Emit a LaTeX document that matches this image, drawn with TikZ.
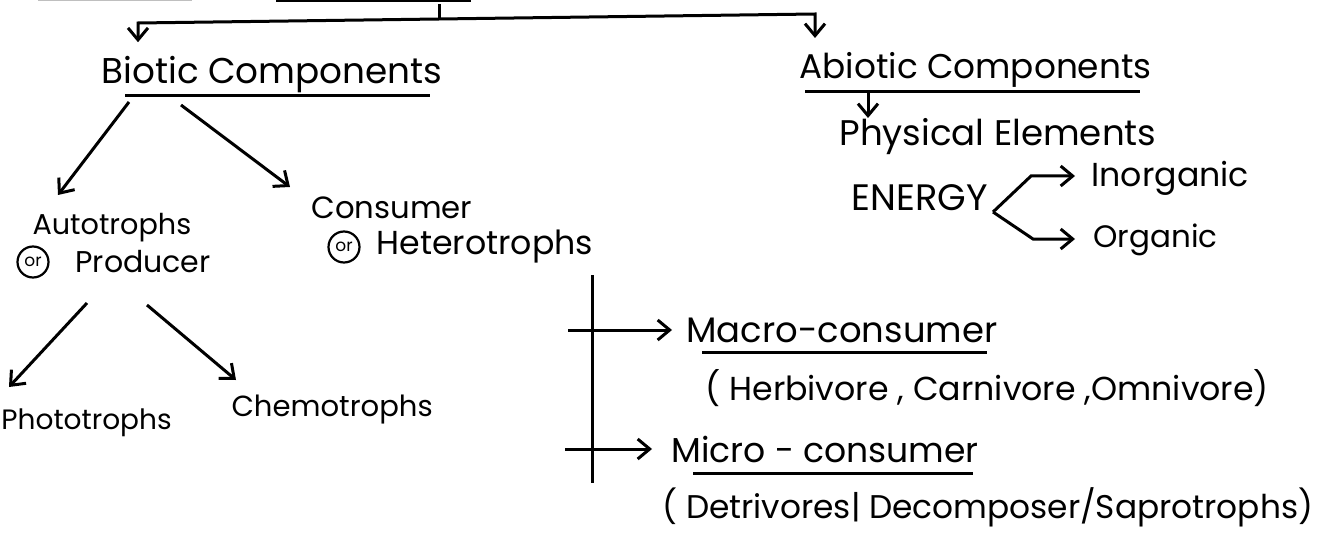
\documentclass[tikz,border=0pt]{standalone}
\usepackage{fontspec}
\setmainfont{Poppins}
\usetikzlibrary{arrows.meta}

\begin{document}
\begin{tikzpicture}[x=1pt,y=-1pt,
		line width=3pt,
		arr/.style={-{Straight Barb[length=12pt,width=20pt]}},
		txt/.style={anchor=west,inner sep=0pt,font=\fontsize{#1}{#1}\selectfont},
		txt/.default=30,
		orc/.style={draw,circle,line width=2.2pt,minimum size=31pt,inner sep=0pt,font=\fontsize{17}{17}\selectfont}]
	\useasboundingbox (0,0) rectangle (1327,540);

	% Cut-off heading at the top
	\draw[gray!50,line width=1pt] (38,1) -- (192,1);
	\draw (276,1) -- (471,1);

	% Main split
	\coordinate (root) at (439,4);
	\coordinate (jn) at (439,19);
	\coordinate (jl) at (138,23);
	\coordinate (jr) at (815,14);

	% Headings
	\node[txt=35.8] (bio) at (100,75) {Biotic Components};
	\node[txt=34.3] (abio) at (798,70) {Abiotic Components};

	\draw (root) -- (jn);
	\draw[arr] (jn) -- (jl) -- ([yshift=13pt]jl |- bio.north);
	\draw[arr] (jn) -- (jr) -- ([yshift=13pt]jr |- abio.north);
	\draw ([shift={(25,21)}]bio.west) -- ([shift={(330,21)}]bio.west);
	\draw ([shift={(7,22)}]abio.west) -- ([shift={(342,22)}]abio.west);

	% Biotic side
	\node[txt=28.7] (auto) at (31,228) {Autotrophs};
	\node[txt=30] (prod) at (74,262) {Producer};
	\node[orc] (orA) at (33,262) {or};
	\node[txt=30.7] (cons) at (310,208) {Consumer};
	\node[txt=33.2] (hetero) at (375,247) {Heterotrophs};
	\node[orc] (orB) at (344,247) {or};
	\node[txt=28] (photo) at (0,423) {Phototrophs};
	\node[txt=29.1] (chemo) at (230,410) {Chemotrophs};

	\draw[arr] ([shift={(29,27)}]bio.west) -- ([shift={(27,-33)}]auto.west);
	\draw[arr] ([shift={(81,30)}]bio.west) -- ([shift={(-20,-21)}]cons.west);
	\draw[arr] ([shift={(13,41)}]prod.west) -- ([shift={(9,-36)}]photo.west);
	\draw[arr] ([shift={(73,43)}]prod.west) -- ([shift={(6,-30)}]chemo.west);

	% Consumer kinds
	\node[txt=35.4] (macro) at (685,330) {Macro-consumer};
	\node[txt=33.2] (herb) at (704,388) {( Herbivore , Carnivore ,Omnivore)};
	\node[txt=34.6] (micro) at (670,449) {Micro - consumer};
	\node[txt=32.8] (detr) at (661,507) {( Detrivores| Decomposer/Saprotrophs)};

	\coordinate (vtop) at (592,275);
	\coordinate (vbot) at (592,483);
	\draw (vtop) -- (vbot);
	\draw[arr] ([xshift=-24pt]vtop |- macro.west) -- ([xshift=-13pt]macro.west);
	\draw[arr] ([xshift=-27pt]vtop |- micro.west) -- ([xshift=-18pt]micro.west);
	\draw ([shift={(17,22)}]macro.west) -- ([shift={(302,22)}]macro.west);
	\draw ([shift={(23,24)}]micro.west) -- ([shift={(303,24)}]micro.west);

	% Abiotic side
	\node[txt=35.6] (phys) at (838,137) {Physical Elements};
	\node[txt=36.8] (energy) at (850,198) {ENERGY};
	\node[txt=33.2] (inorg) at (1090,178) {Inorganic};
	\node[txt=31] (org) at (1092,240) {Organic};

	\draw[arr] ([shift={(70,23)}]abio.west) -- ([shift={(30,-19)}]phys.west);
	\draw[arr] ([shift={(143,14)}]energy.west) -- ++(38,-36) -- ([shift={(-15,-2)}]inorg.west);
	\draw[arr] ([shift={(143,14)}]energy.west) -- ++(40,27) -- ([shift={(-17,-1)}]org.west);
\end{tikzpicture}
\end{document}
